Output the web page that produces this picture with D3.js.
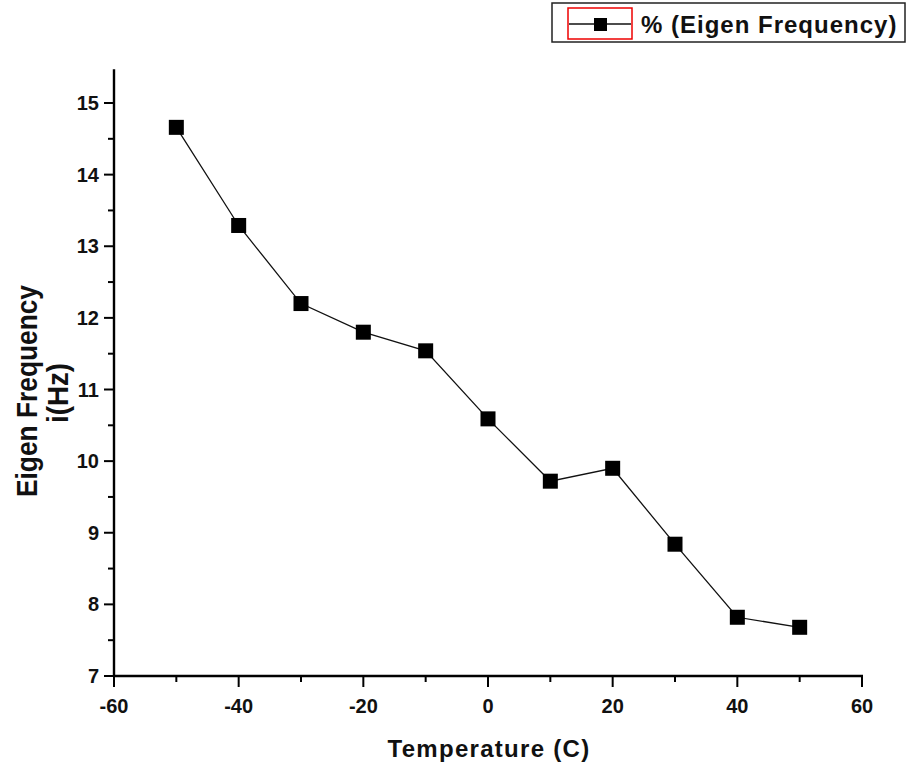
<!DOCTYPE html>
<html><head><meta charset="utf-8">
<script src="https://cdn.jsdelivr.net/npm/d3@7"></script>
<style>body{margin:0;background:#fff}svg{display:block}text{font-family:"Liberation Sans",Arial,sans-serif}</style>
</head><body>
<svg id="c" width="909" height="767"></svg>
<script>
const temperatures = [-50,-40,-30,-20,-10,0,10,20,30,40,50];
const eigenFreq = [14.66,13.29,12.2,11.8,11.54,10.59,9.72,9.9,8.84,7.82,7.68];
const xTicks = [-60,-40,-20,0,20,40,60];
const yTicks = [7,8,9,10,11,12,13,14,15];
const seriesName = "% (Eigen Frequency)";
const xTitle = "Temperature (C)";
const yTitle1 = "Eigen Frequency";
const yTitle2 = "i(Hz)";

const svg = d3.select("#c");
const x = d3.scaleLinear().domain([-60,60]).range([114,862]);
const y = d3.scaleLinear().domain([7,15]).range([676,103]);
const yTop = 15.47;

const g = svg.append("g");
// minor ticks
const xMinor = d3.range(-50,60,20);
g.selectAll(".xm").data(xMinor).enter().append("line")
  .attr("x1",d=>x(d)).attr("x2",d=>x(d)).attr("y1",676).attr("y2",682)
  .attr("stroke","#000").attr("stroke-width",2);
const yMinor = d3.range(7.5,15.5,1);
g.selectAll(".ym").data(yMinor).enter().append("line")
  .attr("x1",114).attr("x2",108).attr("y1",d=>y(d)).attr("y2",d=>y(d))
  .attr("stroke","#000").attr("stroke-width",2);
// major ticks
g.selectAll(".xM").data(xTicks).enter().append("line")
  .attr("x1",d=>x(d)).attr("x2",d=>x(d)).attr("y1",676).attr("y2",687)
  .attr("stroke","#000").attr("stroke-width",2);
g.selectAll(".yM").data(yTicks).enter().append("line")
  .attr("x1",114).attr("x2",104).attr("y1",d=>y(d)).attr("y2",d=>y(d))
  .attr("stroke","#000").attr("stroke-width",2);
// axis lines
g.append("line").attr("x1",114).attr("x2",114).attr("y1",y(yTop)).attr("y2",677)
  .attr("stroke","#000").attr("stroke-width",2.4);
g.append("line").attr("x1",113).attr("x2",x(60)+1).attr("y1",676).attr("y2",676)
  .attr("stroke","#000").attr("stroke-width",2.4);
// tick labels
g.selectAll(".xl").data(xTicks).enter().append("text")
  .attr("x",d=>x(d)).attr("y",713).attr("text-anchor","middle")
  .attr("font-size",20).attr("font-weight","bold").attr("fill","#111").text(d=>d);
g.selectAll(".yl").data(yTicks).enter().append("text")
  .attr("x",99).attr("y",d=>y(d)+7).attr("text-anchor","end")
  .attr("font-size",20).attr("font-weight","bold").attr("fill","#111").text(d=>d);
// titles
svg.append("text").attr("x",489).attr("y",757).attr("text-anchor","middle")
  .attr("font-size",24).attr("font-weight","bold").attr("letter-spacing",1.3).attr("fill","#111").text(xTitle);
svg.append("text").attr("transform","translate(37,391) rotate(-90)").attr("text-anchor","middle")
  .attr("font-size",29).attr("font-weight","bold").attr("textLength",212).attr("lengthAdjust","spacingAndGlyphs")
  .attr("fill","#111").text(yTitle1);
svg.append("text").attr("transform","translate(68,393) rotate(-90)").attr("text-anchor","middle")
  .attr("font-size",29).attr("font-weight","bold").attr("textLength",60).attr("lengthAdjust","spacingAndGlyphs")
  .attr("fill","#111").text(yTitle2);
// line
const pts = temperatures.map((t,i)=>[t,eigenFreq[i]]);
svg.append("path").datum(pts)
  .attr("d",d3.line().x(d=>x(d[0])).y(d=>y(d[1])))
  .attr("fill","none").attr("stroke","#111").attr("stroke-width",1.3);
svg.selectAll(".pt").data(pts).enter().append("rect")
  .attr("x",d=>x(d[0])-7.5).attr("y",d=>y(d[1])-7.5).attr("width",15).attr("height",15)
  .attr("fill","#000");
// legend
const lg = svg.append("g");
lg.append("rect").attr("x",552).attr("y",3).attr("width",353).attr("height",39)
  .attr("fill","#fff").attr("stroke","#222").attr("stroke-width",1.5);
lg.append("rect").attr("x",568).attr("y",8).attr("width",64).attr("height",31)
  .attr("fill","none").attr("stroke","#e00").attr("stroke-width",1.5);
lg.append("line").attr("x1",569).attr("x2",631).attr("y1",24).attr("y2",24)
  .attr("stroke","#111").attr("stroke-width",1.4);
lg.append("rect").attr("x",594).attr("y",18).attr("width",13).attr("height",13).attr("fill","#000");
lg.append("text").attr("x",641).attr("y",33).attr("font-size",24).attr("font-weight","bold")
  .attr("letter-spacing",1).attr("fill","#111").text(seriesName);
</script>
</body></html>
